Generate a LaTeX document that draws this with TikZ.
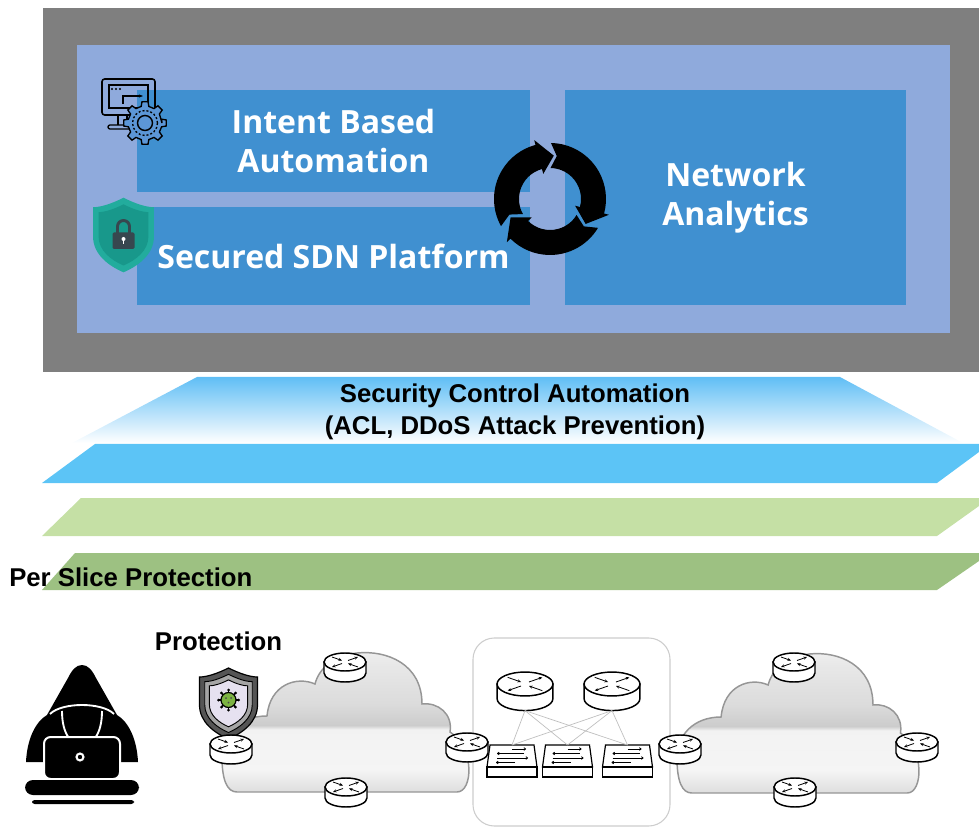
\documentclass[tikz,border=0pt]{standalone}
\usepackage{fontspec}
\setmainfont{Liberation Sans}
\newfontfamily\panelfont{Open Sans}
\usetikzlibrary{arrows.meta}

\definecolor{framegray}{RGB}{127,127,127}
\definecolor{innerbg}{RGB}{143,170,220}
\definecolor{boxblue}{RGB}{64,144,208}
\definecolor{gearblue}{RGB}{92,150,214}
\definecolor{fadeblue}{RGB}{96,190,245}
\definecolor{sliceblue}{RGB}{92,196,246}
\definecolor{lightgreen}{RGB}{197,224,165}
\definecolor{darkgreen}{RGB}{157,193,130}
\definecolor{shieldteal}{RGB}{34,172,157}
\definecolor{shieldtealdark}{RGB}{24,152,139}
\definecolor{lockgray}{RGB}{55,71,79}
\definecolor{cloudedge}{RGB}{150,150,150}
\definecolor{coreedge}{RGB}{205,205,205}
\definecolor{meshgray}{RGB}{190,190,190}
\definecolor{shieldouter}{RGB}{85,85,85}
\definecolor{shieldmid}{RGB}{165,165,165}
\definecolor{shieldinner}{RGB}{230,225,240}
\definecolor{virusgreen}{RGB}{124,179,66}
\definecolor{cg1}{gray}{0.87}
\definecolor{cg2}{gray}{0.96}
\definecolor{cg3}{gray}{0.95}
\definecolor{cg4}{gray}{0.80}
\definecolor{cg5}{gray}{0.86}
\definecolor{cg6}{gray}{0.91}
\definecolor{cg7}{gray}{0.94}

% glossy grey fill of the clouds (bottom to top)
\pgfdeclareverticalshading{cloudgloss}{100bp}{color(0bp)=(cg1); color(25bp)=(cg1);
  color(33bp)=(cg2); color(47bp)=(cg3); color(48.5bp)=(cg4); color(56bp)=(cg5);
  color(70bp)=(cg6); color(75bp)=(cg7); color(100bp)=(cg7)}

% outline of a shield, centred on the origin
\newcommand\shieldpath{(0,-35) .. controls (12,-29) and (22,-26) .. (29,-26) -- (29,2)
  .. controls (29,19) and (14,30) .. (0,36) .. controls (-14,30) and (-29,19) .. (-29,2)
  -- (-29,-26) .. controls (-22,-26) and (-12,-29) .. (0,-35) -- cycle}

% one segment of the black cycle symbol; #1 = angle of the arrow tip
\newcommand\cyclearrow[1]{%
  \pgfmathsetmacro\hb{#1+20}\pgfmathsetmacro\ts{#1+124}\pgfmathsetmacro\tn{#1+116}%
  \fill[black] (\ts:56) arc[start angle=\ts, end angle=\hb, radius=56] -- (\hb:61)
    -- (#1:43.5) -- (\hb:26) -- (\hb:31) arc[start angle=\hb, end angle=\ts, radius=31]
    -- (\tn:43.5) -- cycle;}

\tikzset{
  panelbox/.style={fill=boxblue, inner sep=0pt, text=white, align=center,
    font=\panelfont\bfseries\fontsize{24}{29}\selectfont},
  slicelabel/.style={inner sep=0pt, align=center, font=\bfseries\fontsize{19.3}{24}\selectfont},
  rarrow/.style={-{Stealth[length=2.6pt,width=2.2pt]}, line width=0.6pt},
  sarrow/.style={-{To[length=1.8pt,width=2.4pt]}, line width=0.6pt},
  router/.pic={
    \filldraw[fill=white, line width=1.1pt] (-21,0) -- (-21,11)
      arc[start angle=180, end angle=0, x radius=21, y radius=9] -- (21,0) -- cycle;
    \filldraw[fill=white, line width=1.1pt] (0,0) ellipse[x radius=21, y radius=9];
    \draw[rarrow] (-13,-5) -- (-3,-1.5);
    \draw[rarrow] (-3,1.5) -- (-13,5);
    \draw[rarrow] (3,-1.5) -- (13,-5);
    \draw[rarrow] (13,5) -- (3,1.5);
    \coordinate (-bot) at (0,20);
  },
  switch/.pic={
    \filldraw[fill=white, line width=0.9pt] (-25,0) -- (-22,-22) -- (22,-22) -- (25,0) -- cycle;
    \filldraw[fill=white, line width=0.9pt] (-25,0) rectangle (25,10);
    \draw[sarrow] (0,-18) -- (14,-18);
    \draw[sarrow] (12,-13.5) -- (-15,-13.5);
    \draw[sarrow] (-15,-9) -- (16,-9);
    \draw[sarrow] (3,-4.5) -- (-16,-4.5);
    \coordinate (-top) at (0,-22);
  },
  cloud/.pic={
    \shadedraw[shading=cloudgloss, draw=cloudedge, line width=1.1pt]
      (15,140) -- (235,140) .. controls (251,140) and (253,96) .. (228,80)
      .. controls (231,62) and (216,50) .. (200,52)
      .. controls (200,12) and (165,-2) .. (135,1) .. controls (112,4) and (97,16) .. (93,32)
      .. controls (75,24) and (48,32) .. (45,64)
      .. controls (17,64) and (0,82) .. (0,105) .. controls (0,128) and (5,140) .. (15,140) -- cycle;
  }
}

\begin{document}
\begin{tikzpicture}[x=0.75pt, y=-0.75pt]
\useasboundingbox (0,0) rectangle (979,827);

% ---------- control platform ----------
\fill[framegray] (43,8) rectangle (979,372);
\fill[innerbg] (77,45) rectangle (950,333);

\node[panelbox, minimum width=294.75pt, minimum height=76.5pt] (intent) at (333.5,141)
  {Intent Based\\Automation};
\node[panelbox, minimum width=294.75pt, minimum height=73.5pt] (sdn) at (333.5,256)
  {Secured SDN Platform};
\node[panelbox, minimum width=255.75pt, minimum height=161.25pt] (analytics) at (735.5,198)
  {Network\\Analytics};

% cycle symbol
\begin{scope}[shift={(550,199)}, x=0.75pt, y=0.75pt]
  \cyclearrow{85}
  \cyclearrow{-35}
  \cyclearrow{205}
\end{scope}

% monitor with gear
\draw[line width=1.2pt, rounded corners=2] (102,79) rectangle (155,115);
\draw[line width=0.9pt] (109,85) rectangle (148,108);
\foreach \dx in {112,116,120} \fill (\dx,89) circle[radius=1.1];
\draw[line width=0.9pt, -{Stealth[length=3pt]}] (123,104) -- (123,96) -- (143,96);
\draw[line width=1pt] (118,115) -- (118,125) (127,115) -- (127,125);
\draw[line width=1pt, rounded corners=1.5] (108,125) rectangle (133,129);
\begin{scope}[shift={(145,123)}]
  \filldraw[fill=gearblue, line width=1pt] (0:17)
    \foreach \a in {0,45,...,315} { -- (\a-13:17) -- (\a-8:21.5) -- (\a+8:21.5) -- (\a+13:17) } -- cycle;
  \draw[line width=1pt, dash pattern=on 1.5pt off 1.5pt] (0,0) circle[radius=12.5];
  \draw[line width=1.1pt] (0,0) circle[radius=7.5];
\end{scope}

% teal shield with lock
\begin{scope}[shift={(123.5,234.5)}, scale=1.05]
  \fill[shieldteal] \shieldpath;
  \begin{scope}[scale=0.82]
    \fill[shieldtealdark] \shieldpath;
  \end{scope}
\end{scope}
\draw[lockgray, line width=2.2pt] (117.5,234) -- (117.5,226.5)
  arc[start angle=180, end angle=360, radius=6] -- (129.5,234);
\fill[lockgray, rounded corners=1] (112.5,232.5) rectangle (134.5,249);
\fill[white] (123.5,239) circle[radius=2];
\fill[white] (122.8,239) rectangle (124.2,244);

% ---------- slices ----------
\shade[top color=fadeblue, middle color=fadeblue!30, bottom color=white]
  (197,377) -- (840,377) -- (963,443) -- (72,443) -- cycle;
\fill[sliceblue] (95,444) -- (979,444) -- (979,452) -- (937,483) -- (42,483) -- cycle;
\fill[lightgreen] (81,498) -- (979,498) -- (979,506) -- (937,536) -- (42,536) -- cycle;
\fill[darkgreen] (75,553) -- (979,553) -- (979,561) -- (937,590) -- (42,590) -- cycle;

\node[slicelabel] (sca) at (515,412)
  {Security Control Automation\\(ACL, DDoS Attack Prevention)};
\node[slicelabel, anchor=west] (perslice) at (9,577) {Per Slice Protection};
\node[slicelabel] (protect) at (218.5,641) {Protection};

% ---------- attacker ----------
\fill[black] (82,665) .. controls (76,665) and (72,670) .. (68,678) -- (47,715)
  .. controls (35,722) and (27,740) .. (26,762) -- (138,762)
  .. controls (137,740) and (129,722) .. (117,715) -- (96,678)
  .. controls (92,670) and (88,665) .. (82,665) -- cycle;
\draw[white, line width=1.4pt] (50,714) .. controls (62,702) and (102,702) .. (114,714);
\draw[white, line width=1.4pt] (62,711) .. controls (62,735) and (72,745) .. (82,745)
  .. controls (92,745) and (102,735) .. (102,711);
\filldraw[fill=black, draw=white, line width=1.5pt, rounded corners=5] (44,737) rectangle (120,779);
\filldraw[fill=white] (80,757) circle[radius=5];
\fill[black] (80,757) circle[radius=2.2];
\fill[black, rounded corners=6] (25,780) rectangle (139,795);
\fill[black, rounded corners=2] (32,800) rectangle (134,804);

% ---------- networks ----------
\pic (leftcloud) at (222,652) {cloud};
\pic[xscale=0.98] (rightcloud) at (677,653) {cloud};

\node[draw=coreedge, line width=0.8pt, rounded corners=16pt, fill=white,
  minimum width=147.75pt, minimum height=141pt] (core) at (571.5,732) {};

% virus shield
\begin{scope}[shift={(228.5,703)}]
  \filldraw[fill=shieldouter, draw=black, line width=0.9pt] \shieldpath;
  \begin{scope}[scale=0.82]
    \filldraw[fill=shieldmid, draw=black, line width=0.7pt] \shieldpath;
  \end{scope}
  \begin{scope}[scale=0.66]
    \filldraw[fill=shieldinner, draw=black, line width=0.7pt] \shieldpath;
  \end{scope}
  \foreach \a in {0,45,...,315} {
    \draw[line width=1.2pt] (0,-3) -- ++(\a:10);
    \fill (0,-3) ++(\a:10) circle[radius=1.5];
  }
  \filldraw[fill=virusgreen, draw=black, line width=0.9pt] (0,-3) circle[radius=7.5];
  \fill[black!70] (-2.5,-5) circle[radius=1] (2.5,-5) circle[radius=1] (0,-0.5) circle[radius=1];
\end{scope}

% routers of the left network
\pic (lA) at (345,662) {router};
\pic (lB) at (231,744) {router};
\pic (lC) at (467,742) {router};
\pic (lD) at (346,787) {router};
% routers of the right network
\pic (rA) at (794,662) {router};
\pic (rB) at (680,744) {router};
\pic (rC) at (917,742) {router};
\pic (rD) at (795,787) {router};

% core fabric
\pic[scale=1.33] (coreA) at (525,684) {router};
\pic[scale=1.33] (coreB) at (612,684) {router};
\pic (swA) at (512,767) {switch};
\pic (swB) at (567.5,767) {switch};
\pic (swC) at (627.5,767) {switch};
\foreach \r in {coreA,coreB}
  \foreach \s in {swA,swB,swC}
    \draw[meshgray, line width=0.5pt] (\r-bot) -- (\s-top);
\end{tikzpicture}
\end{document}
